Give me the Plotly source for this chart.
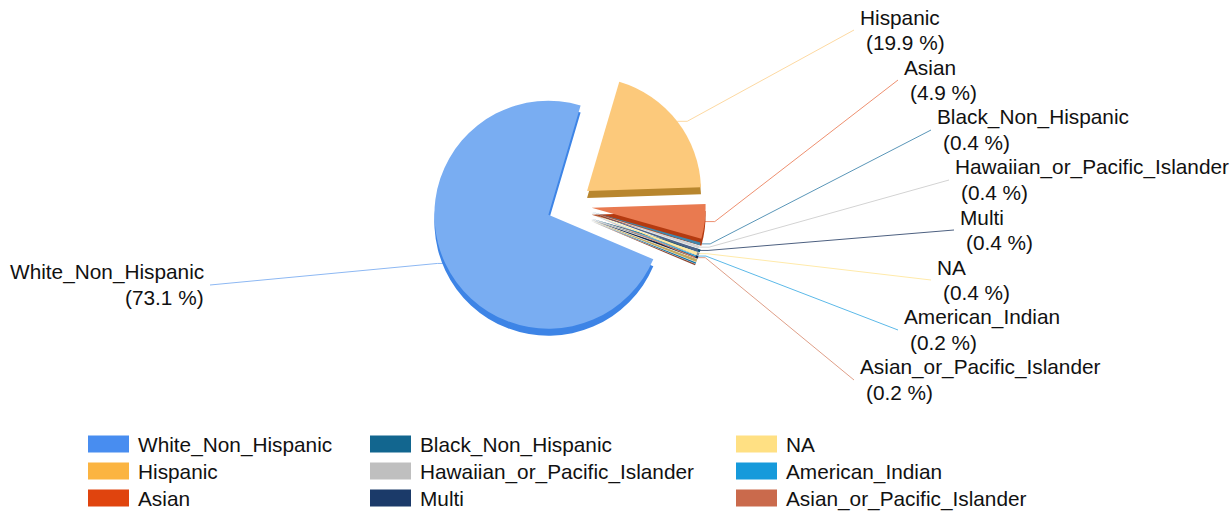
import math
import plotly.graph_objects as go

# ---------------- data ----------------
labels = ["White_Non_Hispanic", "Hispanic", "Asian", "Black_Non_Hispanic",
          "Hawaiian_or_Pacific_Islander", "Multi", "NA", "American_Indian",
          "Asian_or_Pacific_Islander"]
percents = [73.1, 19.9, 4.9, 0.4, 0.4, 0.4, 0.4, 0.2, 0.2]

legend_colors = ["#488DF0", "#FBB441", "#E0440E", "#12668F", "#BFBFBF",
                 "#1B3A69", "#FFE083", "#169ADB", "#CA6A4C"]
face_colors = ["#79ADF2", "#FCC97B", "#E97A50", "#3F87AE", "#D4D4D4",
               "#4E6488", "#FFE9A0", "#45B2E6", "#D68468"]
side_colors = ["#3D84E6", "#B8862E", "#B43A10", "#0A4F70", "#8F8F8F",
               "#12284D", "#C4A95E", "#0E74A6", "#8C4630"]
line_colors = ["#8DB8F3", "#FDD9A2", "#EE9070", "#5A96B8", "#D3D3D3",
               "#4D6080", "#FFEAAA", "#5CB9E8", "#DF9F88"]

# ---------------- layout constants ----------------
W, H = 1232, 511
CX, CY, R = 569, 205, 114      # pie centre / radius in pixels
PULL = 0.2
ROT = 113
DEPTH = 7
FONT = "Liberation Sans, Arial, sans-serif"
FS = 20.8
TXT = "#111111"

# label anchors (pixels): x = left edge (right edge for the left-side label), y = first line centre
label_x = [206, 858, 902, 935, 953, 958, 935, 902, 858]
label_y = [272, 17, 67, 117, 167, 217, 267, 317, 367]

# legend grid (pixels)
leg_col_x = [88, 370, 736]          # swatch left edges
leg_row_y = [444, 471, 498]         # row centres
SW_W, SW_H = 41, 17

half = R * (1 + PULL)
dom_x = [(CX - half) / W, (CX + half) / W]
dom_y = [1 - (CY + half) / H, 1 - (CY - half) / H]
dom_y_side = [dom_y[0] - DEPTH / H, dom_y[1] - DEPTH / H]

fig = go.Figure()

# leader lines (computed from slice angles)
total = sum(percents)
ang = ROT
annotations = []
for i, (lab, p) in enumerate(zip(labels, percents)):
    span = p / total * 360
    mid = math.radians(ang + span / 2)
    ang += span
    dx, dy = math.sin(mid), -math.cos(mid)
    sx = CX + (PULL * R + R) * dx
    sy = CY + (PULL * R + R) * dy
    left_side = label_x[i] < CX
    ex = sx + (-8 if left_side else 10)
    tx = label_x[i] + (4 if left_side else -4)
    ty = label_y[i] + 13
    fig.add_trace(go.Scatter(x=[sx, ex, tx], y=[sy, sy, ty], mode="lines",
                             line=dict(color=line_colors[i], width=1),
                             hoverinfo="skip", showlegend=False))
    anchor = "right" if left_side else "left"
    annotations.append(dict(x=label_x[i], y=label_y[i], xref="x", yref="y",
                            text=lab, showarrow=False, xanchor=anchor,
                            yanchor="middle",
                            font=dict(family=FONT, size=FS, color=TXT)))
    annotations.append(dict(x=label_x[i] + (0 if left_side else 6), y=label_y[i] + 25,
                            xref="x", yref="y", text=f"({p} %)", showarrow=False,
                            xanchor=anchor, yanchor="middle",
                            font=dict(family=FONT, size=FS, color=TXT)))

# 3D side (shadow) pie
fig.add_trace(go.Pie(labels=labels, values=percents, sort=False, direction="clockwise",
                     rotation=ROT, pull=[PULL] * len(labels), textinfo="none",
                     marker=dict(colors=side_colors, line=dict(width=0)),
                     domain=dict(x=dom_x, y=dom_y_side), showlegend=False,
                     hoverinfo="skip"))
# top face pie
fig.add_trace(go.Pie(labels=labels, values=percents, sort=False, direction="clockwise",
                     rotation=ROT, pull=[PULL] * len(labels), textinfo="none",
                     marker=dict(colors=face_colors, line=dict(width=0)),
                     domain=dict(x=dom_x, y=dom_y), showlegend=False,
                     hovertemplate="%{label}: %{value} %<extra></extra>"))

# legend: one legend box per entry, arranged column-major in a 3x3 grid
shapes = []
legends = {}
for i, lab in enumerate(labels):
    col, row = i // 3, i % 3
    lid = "legend" if i == 0 else f"legend{i + 1}"
    fig.add_trace(go.Scatter(x=[None], y=[None], mode="lines", name=lab,
                             line=dict(color="rgba(0,0,0,0)", width=1),
                             legend=lid))
    legends[lid] = dict(xref="container", yref="container",
                        x=(leg_col_x[col] - 6) / W, y=1 - leg_row_y[row] / H,
                        xanchor="left", yanchor="middle", itemwidth=46,
                        font=dict(family=FONT, size=FS, color=TXT),
                        bgcolor="rgba(0,0,0,0)", borderwidth=0)
    shapes.append(dict(type="rect", xref="x", yref="y",
                       x0=leg_col_x[col], x1=leg_col_x[col] + SW_W,
                       y0=leg_row_y[row] - SW_H / 2, y1=leg_row_y[row] + SW_H / 2,
                       fillcolor=legend_colors[i], line=dict(width=0), layer="above"))

fig.update_layout(
    width=W, height=H,
    margin=dict(l=0, r=0, t=0, b=0, autoexpand=False),
    paper_bgcolor="white", plot_bgcolor="white",
    xaxis=dict(range=[0, W], visible=False, fixedrange=True),
    yaxis=dict(range=[H, 0], visible=False, fixedrange=True),
    annotations=annotations,
    shapes=shapes,
    showlegend=True,
    **legends,
)

fig.write_html("out.html",
               config={"displayModeBar": False},
               post_script="document.body.style.margin='0px';document.body.style.overflow='hidden';")
